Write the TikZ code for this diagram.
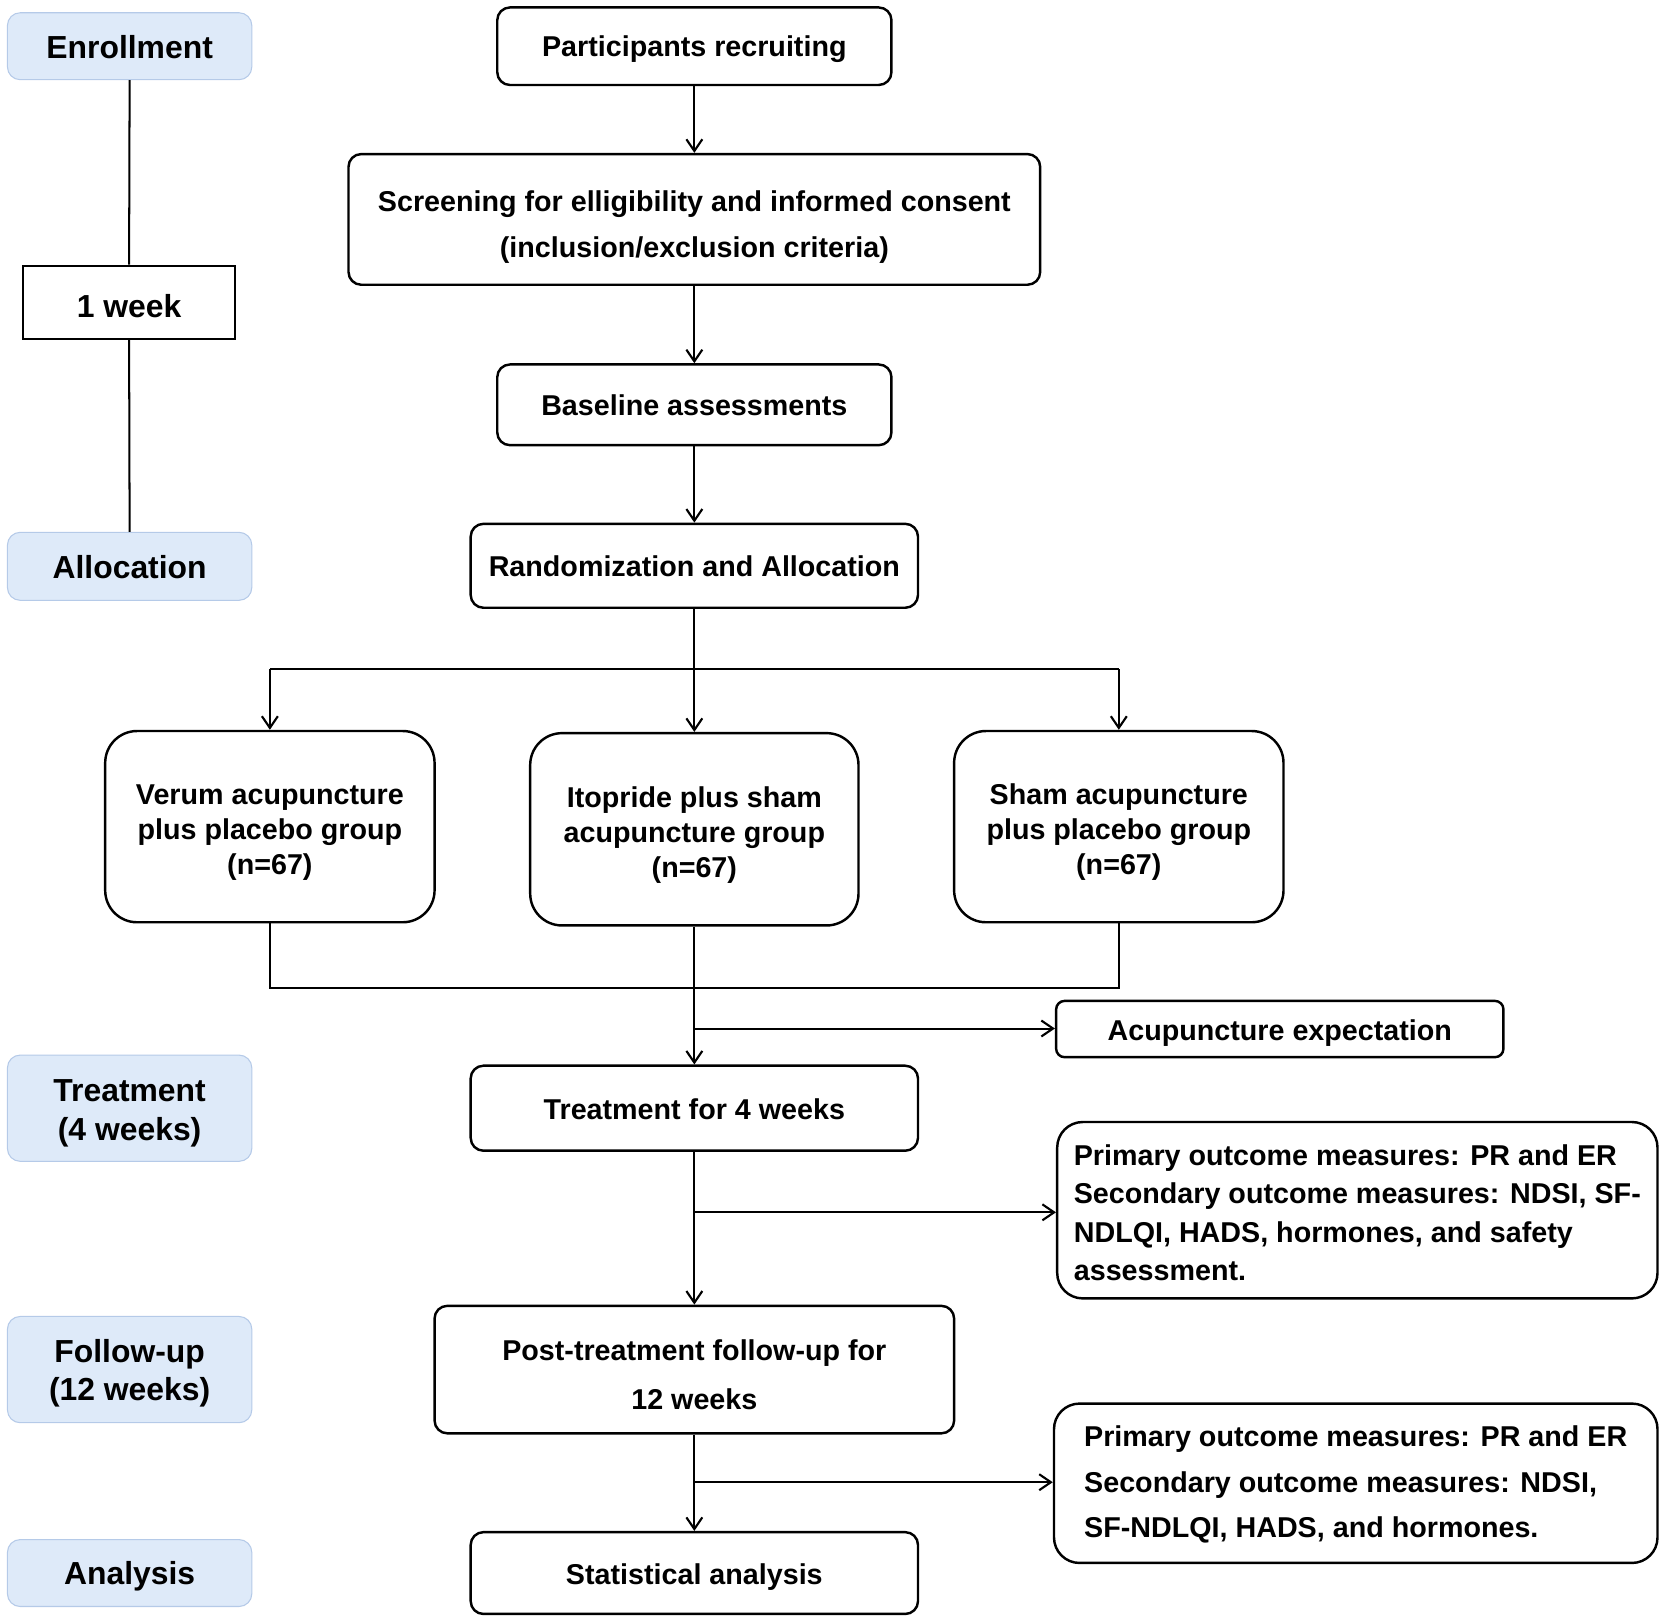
\documentclass[tikz,border=0pt]{standalone}
\usepackage{fontspec}
\setmainfont{Liberation Sans}
\usetikzlibrary{arrows.meta,calc}
\definecolor{lblfill}{HTML}{DEEAF9}
\definecolor{lbldraw}{HTML}{B5CAE8}
% #1 name, #2-#5 box corners, #6 style, #7 text, #8 downward text shift (pt)
\newcommand{\bx}[8]{%
  \node[#6, minimum width={(#4-#2)*0.5pt}, minimum height={(#5-#3)*0.5pt}] (#1) at ({(#2+#4)/2},{(#3+#5)/2}) {\rule{0pt}{\dimexpr 0.75em+#8pt*2\relax}#7};}
\begin{document}
\begin{tikzpicture}[x=0.5pt,y=-0.5pt,
  base/.style={inner sep=2pt, align=center, font=\fontsize{13.5}{16.5}\selectfont\bfseries},
  mainbox/.style={base, draw=black, line width=1.15pt, rounded corners=6pt},
  grpbox/.style={base, draw=black, line width=1.15pt, rounded corners=15pt},
  outbox/.style={base, align=left, draw=black, line width=1.15pt, rounded corners=12pt},
  lbl/.style={base, fill=lblfill, draw=lbldraw, line width=0.5pt, rounded corners=6pt, font=\fontsize{15}{18}\selectfont\bfseries},
  wkbox/.style={base, draw=black, line width=1pt, font=\fontsize{15}{18}\selectfont\bfseries},
  conn/.style={line width=0.95pt},
  arr/.style={conn, -{Straight Barb[length=5.5pt,width=7.5pt,line width=1pt]}}]
\useasboundingbox (0,0) rectangle (1568,1527);
% left column
\bx{enr}{7}{12}{237}{75}{lbl}{Enrollment}{0}
\bx{wk}{22}{250}{221}{319}{wkbox}{1 week}{1.5}
\bx{alc}{7}{501}{237}{565}{lbl}{Allocation}{0}
\bx{trt}{7}{993}{237}{1093}{lbl}{Treatment\\(4 weeks)}{2}
\bx{fol}{7}{1239}{237}{1339}{lbl}{Follow-up\\(12 weeks)}{1.5}
\bx{ana}{7}{1449}{237}{1512}{lbl}{Analysis}{1.5}
\draw[conn] (enr.south) -- (wk.north);
\draw[conn] (wk.south) -- (alc.north);
% main column
\bx{rec}{468}{7}{839}{80}{mainbox}{Participants recruiting}{1}
\bx{scr}{328}{145}{979}{268}{mainbox,font=\fontsize{13.5}{21.5}\selectfont\bfseries}{Screening for elligibility and informed consent\\(inclusion/exclusion criteria)}{3.5}
\bx{bas}{468}{343}{839}{419}{mainbox}{Baseline assessments}{0}
\bx{rnd}{443}{493}{864}{572}{mainbox}{Randomization and Allocation}{0}
\bx{ver}{99}{688}{409}{868}{grpbox}{Verum acupuncture\\plus placebo group\\(n=67)}{2.5}
\bx{ito}{499}{690}{808}{871}{grpbox}{Itopride plus sham\\acupuncture group\\(n=67)}{2.5}
\bx{sha}{898}{688}{1208}{868}{grpbox}{Sham acupuncture\\plus placebo group\\(n=67)}{2.5}
\bx{exp}{994}{942}{1415}{995}{mainbox,rounded corners=4pt}{Acupuncture expectation}{1.5}
\bx{tfw}{443}{1003}{864}{1083}{mainbox}{Treatment for 4 weeks}{0.5}
\bx{oa}{995}{1056}{1560}{1222}{outbox,font=\fontsize{13.5}{18}\selectfont\bfseries}{Primary outcome measures: PR and ER\\Secondary outcome measures: NDSI, SF-\\NDLQI, HADS, hormones, and safety\\assessment.}{1}
\bx{pst}{409}{1229}{898}{1349}{mainbox,font=\fontsize{13.5}{23}\selectfont\bfseries}{Post-treatment follow-up for\\12 weeks}{2.25}
\bx{ob}{992}{1321}{1560}{1471}{outbox,font=\fontsize{13.5}{21.5}\selectfont\bfseries}{Primary outcome measures: PR and ER\\Secondary outcome measures: NDSI,\\SF-NDLQI, HADS, and hormones.}{0.5}
\bx{sta}{443}{1442}{864}{1519}{mainbox}{Statistical analysis}{1.5}
% connectors
\draw[arr] (rec.south) -- (scr.north);
\draw[arr] (scr.south) -- (bas.north);
\draw[arr] (bas.south) -- (rnd.north);
\draw[arr] (rnd.south) -- (ito.north);
\coordinate (bl) at (254,630);
\coordinate (br) at (1053,630);
\draw[conn] (bl) -- (br);
\draw[arr] (bl) -- (ver.north);
\draw[arr] (br) -- (sha.north);
\coordinate (jl) at (254,930);
\coordinate (jr) at (1053,930);
\draw[conn] (ver.south) -- (jl) -- (jr) -- (sha.south);
\draw[arr] (ito.south) -- (tfw.north);
\coordinate (e1) at (653,968);
\draw[arr] (e1) -- (e1 -| exp.west);
\draw[arr] (tfw.south) -- (tfw.south |- pst.north);
\coordinate (e2) at (653,1141);
\draw[arr] (e2) -- (e2 -| oa.west);
\draw[arr] (pst.south -| tfw.south) -- (sta.north);
\coordinate (e3) at (653,1395);
\draw[arr] (e3) -- (e3 -| ob.west);
\end{tikzpicture}
\end{document}
